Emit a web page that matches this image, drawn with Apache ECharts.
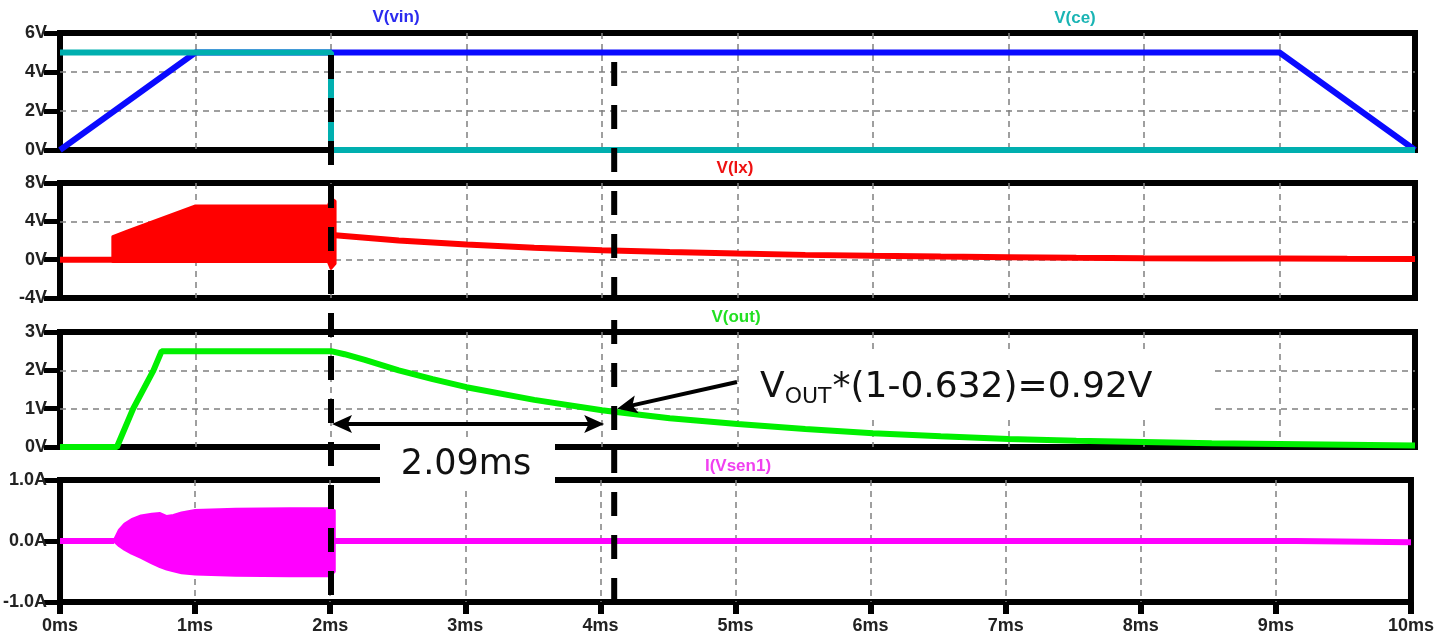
<!DOCTYPE html>
<html>
<head>
<meta charset="utf-8">
<title>Discharge waveforms</title>
<script src="https://cdn.jsdelivr.net/npm/echarts@6/dist/echarts.min.js"></script>
<style>
  html, body { margin: 0; padding: 0; background: #ffffff; }
  #chart { width: 1437px; height: 637px; }
</style>
</head>
<body>
<div id="chart"></div>
<script>
// ---- waveform data (time in ms) ----
const vinT = [0, 1, 9, 10];
const vinV = [0, 5, 5, 0];

const ceT = [0, 2, 2, 10];
const ceV = [5, 5, 0, 0];

// V(lx): idle, switching envelope, then decay after CE goes low
const lxIdleT = [0, 0.39];
const lxIdleV = [0, 0];
const lxBandT  = [0.39, 0.5, 1.0, 1.5, 1.98, 2.0, 2.03];
const lxBandHi = [2.4, 3.0, 5.6, 5.6, 5.6, 6.4, 6.1];
const lxBandLo = [-0.2, -0.2, -0.2, -0.2, -0.2, -0.9, -0.4];
const lxDecayT = [2.03, 2.5, 3, 3.5, 4, 4.5, 5, 5.5, 6, 6.5, 7, 7.5, 8, 8.5, 9, 9.5, 10];
const lxDecayV = [2.55, 2.0, 1.58, 1.25, 0.99, 0.8, 0.64, 0.5, 0.4, 0.32, 0.26, 0.2, 0.16, 0.13, 0.11, 0.09, 0.08];

// V(out)
const outT = [0, 0.42, 0.54, 0.69, 0.75, 2.0, 2.1, 2.25, 2.5, 2.75, 3.0, 3.5, 4.0, 4.09, 4.5, 5.0, 5.5, 6.0, 6.5, 7.0, 7.5, 8.0, 8.5, 9.0, 9.5, 10];
const outV = [0, 0, 1.0, 2.0, 2.5, 2.5, 2.42, 2.27, 2.0, 1.77, 1.56, 1.23, 0.96, 0.92, 0.75, 0.6, 0.47, 0.36, 0.28, 0.21, 0.16, 0.13, 0.1, 0.08, 0.06, 0.04];

// I(Vsen1): idle, switching envelope, idle
const isIdleT = [0, 0.4];
const isIdleV = [0, 0];
const isBandT  = [0.4, 0.44, 0.48, 0.53, 0.6, 0.68, 0.74, 0.79, 0.84, 0.9, 1.0, 1.3, 1.7, 2.0, 2.03];
const isBandHi = [0, 0.18, 0.28, 0.35, 0.41, 0.44, 0.45, 0.4, 0.42, 0.46, 0.5, 0.52, 0.53, 0.53, 0.5];
const isBandLo = [0, -0.08, -0.14, -0.2, -0.27, -0.36, -0.42, -0.46, -0.49, -0.52, -0.54, -0.56, -0.57, -0.57, -0.5];
const isTailT = [2.03, 9.15, 9.15, 10];
const isTailV = [0, 0, -0.02, -0.02];

// cursors and annotation values
const cursorStart = 2.0;
const tauMs = 2.09;
const vAtTau = 0.92;

// ---- helpers ----
const zip = (t, v) => t.map((x, i) => [x, v[i]]);
const AX_FONT = '"Liberation Sans", Arial, sans-serif';
const NOTE_FONT = '"DejaVu Sans", Verdana, sans-serif';

const grids = [
  { top: 33,  height: 117 },
  { top: 183, height: 115 },
  { top: 332, height: 115 },
  { top: 480, height: 122 }
].map(g => ({
  left: 60, width: 1355, top: g.top, height: g.height,
  show: true, borderColor: '#000', borderWidth: 6, backgroundColor: 'transparent'
}));

const gridLine = {
  show: true, showMinLine: false, showMaxLine: false,
  lineStyle: { color: '#808080', width: 1.5, type: [6, 5] }
};

function xAxis(gi, labels) {
  return {
    type: 'value', gridIndex: gi, min: 0, max: 10, interval: 1, position: 'bottom',
    axisLine: { show: false, onZero: false },
    axisTick: { show: labels, length: 12, lineStyle: { color: '#000', width: 6 } },
    axisLabel: {
      show: labels, margin: 15, fontSize: 18, fontWeight: 'bold',
      fontFamily: AX_FONT, color: '#222', formatter: v => v + 'ms'
    },
    splitLine: gridLine
  };
}

function yAxis(gi, min, max, step, unit, digits) {
  return {
    type: 'value', gridIndex: gi, min: min, max: max, interval: step, position: 'left',
    axisLine: { show: false, onZero: false },
    axisTick: { show: true, length: 16, lineStyle: { color: '#000', width: 5 } },
    axisLabel: {
      margin: 13, fontSize: 18, fontWeight: 'bold', fontFamily: AX_FONT, color: '#222',
      formatter: v => v.toFixed(digits) + unit
    },
    splitLine: gridLine
  };
}

function trace(gi, t, v, color) {
  return {
    type: 'line', xAxisIndex: gi, yAxisIndex: gi, data: zip(t, v),
    symbol: 'none', silent: true, animation: false,
    lineStyle: { color: color, width: 6 }
  };
}

// filled envelope of a fast switching waveform
function band(gi, t, hi, lo, color) {
  return {
    type: 'custom', xAxisIndex: gi, yAxisIndex: gi, data: [[t[0], hi[0]]],
    silent: true, animation: false,
    renderItem: (params, api) => {
      const pts = [];
      for (let i = 0; i < t.length; i++) pts.push(api.coord([t[i], hi[i]]));
      for (let i = t.length - 1; i >= 0; i--) pts.push(api.coord([t[i], lo[i]]));
      return {
        type: 'polygon', shape: { points: pts },
        style: { fill: color, stroke: color, lineWidth: 3, lineJoin: 'round' }
      };
    }
  };
}

const BLUE = '#0a0aff', TEAL = '#00afaf', RED = '#ff0000', GREEN = '#00f000', MAGENTA = '#ff00ff';

const chart = echarts.init(document.getElementById('chart'), null, { renderer: 'canvas' });
chart.setOption({
  animation: false,
  backgroundColor: '#ffffff',
  grid: grids,
  xAxis: [xAxis(0, false), xAxis(1, false), xAxis(2, false), xAxis(3, true)],
  yAxis: [
    yAxis(0, 0, 6, 2, 'V', 0),
    yAxis(1, -4, 8, 4, 'V', 0),
    yAxis(2, 0, 3, 1, 'V', 0),
    yAxis(3, -1, 1, 1, 'A', 1)
  ],
  series: [
    trace(0, vinT, vinV, BLUE),
    trace(0, ceT, ceV, TEAL),
    trace(1, lxIdleT, lxIdleV, RED),
    band(1, lxBandT, lxBandHi, lxBandLo, RED),
    trace(1, lxDecayT, lxDecayV, RED),
    trace(2, outT, outV, GREEN),
    trace(3, isIdleT, isIdleV, MAGENTA),
    band(3, isBandT, isBandHi, isBandLo, MAGENTA),
    trace(3, isTailT, isTailV, MAGENTA)
  ]
});

// ---- annotations ----
const px = (gi, x, y) => chart.convertToPixel({ gridIndex: gi }, [x, y]);
const xA = px(0, cursorStart, 0)[0];
const xB = px(0, cursorStart + tauMs, 0)[0];
const tip = px(2, cursorStart + tauMs, vAtTau);

const measure = (() => {
  const ctx = document.createElement('canvas').getContext('2d');
  return (text, font) => { ctx.font = font; return ctx.measureText(text).width; };
})();

function label(text, x, y, color, font, align) {
  return {
    type: 'text', z: 110,
    style: {
      text: text, x: x, y: y, fill: color, font: font,
      align: align || 'center', verticalAlign: 'middle',
      textAlign: align || 'center', textVerticalAlign: 'middle'
    }
  };
}

function arrowHead(tx, ty, ux, uy, len, half) {
  // ux, uy: unit vector pointing toward the tip
  const bx = tx - ux * len, by = ty - uy * len;
  const nx = -uy, ny = ux;
  const mx = tx - ux * len * 0.78, my = ty - uy * len * 0.78;
  return {
    type: 'polygon', z: 110,
    shape: { points: [[tx, ty], [bx + nx * half, by + ny * half], [mx, my], [bx - nx * half, by - ny * half]] },
    style: { fill: '#000' }
  };
}

const titleFont = 'bold 17px ' + AX_FONT;
const bigFont = '36px ' + NOTE_FONT;
const subFont = '22px ' + NOTE_FONT;

const noteX = 760, noteY = 388;
const wV = measure('V', bigFont);
const wSub = measure('OUT', subFont);

const arrowY = 424;
const hL = xA + 1, hR = xB - 10;

// diagonal pointer
const dStart = [737, 382];
const dTip = [tip[0] + 3, tip[1] - 3];
const dx = dTip[0] - dStart[0], dy = dTip[1] - dStart[1];
const dl = Math.hypot(dx, dy);
const ux = dx / dl, uy = dy / dl;

chart.setOption({
  graphic: [
    // white backing boxes behind the notes
    { type: 'rect', z: 100, shape: { x: 741, y: 353, width: 474, height: 64 }, style: { fill: '#fff' } },
    { type: 'rect', z: 100, shape: { x: 380, y: 441, width: 175, height: 48 }, style: { fill: '#fff' } },

    // trace names
    label('V(vin)', 396, 17, '#2b2bef', titleFont),
    label('V(ce)', 1075, 18, '#1ab4b4', titleFont),
    label('V(lx)', 735, 168, '#ee1111', titleFont),
    label('V(out)', 736, 317, '#22e022', titleFont),
    label('I(Vsen1)', 738, 466, '#f040f0', titleFont),

    // time cursors
    { type: 'line', z: 120, shape: { x1: xA, y1: 55, x2: xA, y2: 612 },
      style: { stroke: '#000', lineWidth: 6, lineDash: [24, 19] } },
    { type: 'line', z: 120, shape: { x1: xB, y1: 62, x2: xB, y2: 612 },
      style: { stroke: '#000', lineWidth: 6, lineDash: [24, 19] } },

    // span arrow
    { type: 'line', z: 110, shape: { x1: hL + 10, y1: arrowY, x2: hR - 10, y2: arrowY },
      style: { stroke: '#000', lineWidth: 4 } },
    arrowHead(hL, arrowY, -1, 0, 20, 9),
    arrowHead(hR, arrowY, 1, 0, 20, 9),
    label('2.09ms', 466, 465, '#111', '35px ' + NOTE_FONT),

    // pointer to the 63.2% point
    { type: 'line', z: 110,
      shape: { x1: dStart[0], y1: dStart[1], x2: dTip[0] - ux * 12, y2: dTip[1] - uy * 12 },
      style: { stroke: '#000', lineWidth: 4 } },
    arrowHead(dTip[0], dTip[1], ux, uy, 20, 9),

    label('V', noteX, noteY, '#111', bigFont, 'left'),
    label('OUT', noteX + wV, noteY + 9, '#111', subFont, 'left'),
    label('*(1-0.632)=0.92V', noteX + wV + wSub + 1, noteY, '#111', bigFont, 'left')
  ]
});
</script>
</body>
</html>
